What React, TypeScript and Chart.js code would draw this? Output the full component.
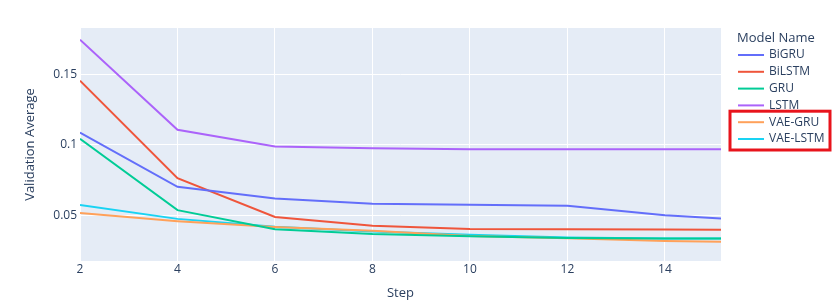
import React, { useEffect, useRef } from "react";
import { Chart, registerables } from "chart.js";

Chart.register(...registerables);

const STEPS = [2, 4, 6, 8, 10, 12, 14, 15.15];
const MODEL_NAMES = ["BiGRU", "BiLSTM", "GRU", "LSTM", "VAE-GRU", "VAE-LSTM"];
const BIGRU = [0.1087, 0.0702, 0.0618, 0.0581, 0.0574, 0.0568, 0.05, 0.0477];
const BILSTM = [0.1455, 0.0763, 0.0488, 0.0425, 0.0402, 0.0401, 0.0398, 0.0396];
const GRU = [0.1043, 0.0536, 0.0401, 0.0366, 0.035, 0.0338, 0.0335, 0.0334];
const LSTM = [0.1746, 0.1107, 0.0988, 0.0976, 0.0969, 0.0969, 0.0969, 0.0969];
const VAE_GRU = [0.0515, 0.0458, 0.0416, 0.0389, 0.0352, 0.0336, 0.0317, 0.0311];
const VAE_LSTM = [0.0572, 0.0474, 0.0418, 0.0384, 0.0361, 0.0342, 0.0335, 0.0334];
const SERIES = [BIGRU, BILSTM, GRU, LSTM, VAE_GRU, VAE_LSTM];
const COLORS = ["#636efa", "#EF553B", "#00cc96", "#ab63fa", "#FFA15A", "#19d3f3"];
const X_TICKS = [2, 4, 6, 8, 10, 12, 14];
const Y_TICKS = [0.05, 0.1, 0.15];
const Y_TICK_LABELS = ["0.05", "0.1", "0.15"];
const X_MIN = 2;
const X_MAX = 15.15;
const Y_MIN = 0.0175;
const Y_MAX = 0.1829;
const HIGHLIGHTED = ["VAE-GRU", "VAE-LSTM"];

const FONT = "'Open Sans', verdana, arial, sans-serif";
const TEXT_COLOR = "#2a3f5f";

const bgPlugin = {
  id: "plotBg",
  beforeDraw(chart: any) {
    const { ctx, chartArea } = chart;
    ctx.save();
    ctx.fillStyle = "#E5ECF6";
    ctx.fillRect(chartArea.left, chartArea.top, chartArea.right - chartArea.left, chartArea.bottom - chartArea.top);
    ctx.restore();
  },
};

const legendPlugin = {
  id: "plotlyLegend",
  afterDraw(chart: any) {
    const { ctx, chartArea } = chart;
    const x0 = chartArea.right + 17;
    const titleY = 38;
    const itemY0 = 55;
    const gap = 16.8;
    ctx.save();
    ctx.fillStyle = TEXT_COLOR;
    ctx.textBaseline = "middle";
    ctx.textAlign = "left";
    ctx.font = `13px ${FONT}`;
    ctx.fillText("Model Name", x0 - 1, titleY);
    ctx.font = `12px ${FONT}`;
    MODEL_NAMES.forEach((name, i) => {
      const y = itemY0 + i * gap;
      ctx.strokeStyle = COLORS[i];
      ctx.lineWidth = 2;
      ctx.beginPath();
      ctx.moveTo(x0, y);
      ctx.lineTo(x0 + 26, y);
      ctx.stroke();
      ctx.fillStyle = TEXT_COLOR;
      ctx.fillText(name, x0 + 31, y);
    });
    const idx = HIGHLIGHTED.map((n) => MODEL_NAMES.indexOf(n));
    const first = Math.min(...idx);
    const last = Math.max(...idx);
    const top = itemY0 + first * gap - 11;
    const bottom = itemY0 + last * gap + 11;
    ctx.strokeStyle = "#e8141c";
    ctx.lineWidth = 3;
    ctx.strokeRect(x0 - 8, top, 100, bottom - top);
    ctx.restore();
  },
};

export default function App() {
  const ref = useRef<HTMLCanvasElement>(null);
  useEffect(() => {
    document.body.style.margin = "0";
    const canvas = ref.current!;
    const chart = new Chart(canvas, {
      type: "line",
      data: {
        datasets: MODEL_NAMES.map((name, i) => ({
          label: name,
          data: STEPS.map((s, j) => ({ x: s, y: SERIES[i][j] })),
          borderColor: COLORS[i],
          backgroundColor: COLORS[i],
          borderWidth: 2,
          pointRadius: 0,
          tension: 0,
          fill: false,
        })),
      },
      options: {
        animation: false,
        responsive: false,
        maintainAspectRatio: false,
        layout: { padding: { top: 28, right: 119, left: 22, bottom: 0 } },
        plugins: { legend: { display: false }, tooltip: { enabled: false } },
        scales: {
          x: {
            type: "linear",
            min: X_MIN,
            max: X_MAX,
            afterBuildTicks: (s: any) => {
              s.ticks = X_TICKS.map((v) => ({ value: v }));
            },
            afterFit: (s: any) => {
              s.height = 41;
            },
            grid: { color: "#ffffff", lineWidth: 1, drawTicks: false },
            border: { display: false },
            ticks: {
              padding: 1,
              color: TEXT_COLOR,
              font: { family: FONT, size: 12 },
              maxRotation: 0,
              autoSkip: false,
              callback: (v: any) => String(v),
            },
            title: {
              display: true,
              text: "Step",
              color: TEXT_COLOR,
              font: { family: FONT, size: 13 },
              padding: { top: 4, bottom: 1 },
            },
          },
          y: {
            type: "linear",
            min: Y_MIN,
            max: Y_MAX,
            afterBuildTicks: (s: any) => {
              s.ticks = Y_TICKS.map((v) => ({ value: v }));
            },
            afterFit: (s: any) => {
              s.width = 58;
            },
            grid: { color: "#ffffff", lineWidth: 1, drawTicks: false },
            border: { display: false },
            ticks: {
              padding: 3,
              color: TEXT_COLOR,
              font: { family: FONT, size: 12 },
              autoSkip: false,
              callback: (v: any) => {
                const k = Y_TICKS.findIndex((t) => Math.abs(t - v) < 1e-9);
                return k >= 0 ? Y_TICK_LABELS[k] : "";
              },
            },
            title: {
              display: true,
              text: "Validation Average",
              color: TEXT_COLOR,
              font: { family: FONT, size: 13 },
              padding: { top: 0, bottom: 6 },
            },
          },
        },
      },
      plugins: [bgPlugin, legendPlugin],
    } as any);
    return () => chart.destroy();
  }, []);
  return (
    <div style={{ width: 840, height: 302, background: "#fff" }}>
      <canvas ref={ref} width={840} height={302} style={{ display: "block", width: 840, height: 302 }} />
    </div>
  );
}
